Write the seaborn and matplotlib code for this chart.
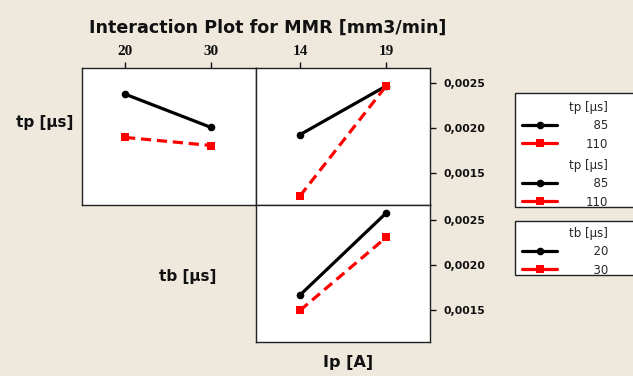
import matplotlib
matplotlib.use('Agg')
import matplotlib.pyplot as plt
from matplotlib.lines import Line2D
from matplotlib.patches import Rectangle
import pandas as pd
import seaborn as sns

# factor levels
tb_levels = [20, 30]
ip_levels = [14, 19]
tp_names = ['85', '110']
tb_names = ['20', '30']

# mean MMR [mm3/min]
mmr_tp85_vs_tb = [0.00238, 0.00201]
mmr_tp110_vs_tb = [0.00190, 0.00181]
mmr_tp85_vs_ip = [0.00193, 0.00247]
mmr_tp110_vs_ip = [0.00125, 0.00247]
mmr_tb20_vs_ip = [0.00167, 0.00258]
mmr_tb30_vs_ip = [0.00150, 0.00231]

yticks = [0.0015, 0.0020, 0.0025]
ytick_labels = ['0,0015', '0,0020', '0,0025']

BG = '#EEE8DD'
W, H = 633, 376

sns.set_theme(style='white')
plt.rcParams['font.family'] = ['DejaVu Sans']

df_tb = pd.DataFrame({'x': tb_levels * 2,
                      'lvl': [tp_names[0]] * 2 + [tp_names[1]] * 2,
                      'MMR': mmr_tp85_vs_tb + mmr_tp110_vs_tb})
df_ip_tp = pd.DataFrame({'x': ip_levels * 2,
                         'lvl': [tp_names[0]] * 2 + [tp_names[1]] * 2,
                         'MMR': mmr_tp85_vs_ip + mmr_tp110_vs_ip})
df_ip_tb = pd.DataFrame({'x': ip_levels * 2,
                         'lvl': [tb_names[0]] * 2 + [tb_names[1]] * 2,
                         'MMR': mmr_tb20_vs_ip + mmr_tb30_vs_ip})

fig = plt.figure(figsize=(W / 100, H / 100), dpi=100, facecolor=BG)


def frac_box(x0, y0, x1, y1):
    return [x0 / W, 1 - y1 / H, (x1 - x0) / W, (y1 - y0) / H]


ax_tl = fig.add_axes(frac_box(82, 68, 256, 205))
ax_tr = fig.add_axes(frac_box(256, 68, 430, 205))
ax_br = fig.add_axes(frac_box(256, 205, 430, 342))


def draw(ax, df, order):
    sns.lineplot(data=df, x='x', y='MMR', hue='lvl', style='lvl',
                 hue_order=order, style_order=order,
                 palette=dict(zip(order, ['black', 'red'])),
                 markers=dict(zip(order, ['o', 's'])),
                 dashes=dict(zip(order, ['', (3.2, 1.8)])),
                 linewidth=2.3, markersize=5.5, markeredgewidth=0,
                 legend=False, ax=ax)
    ax.set_facecolor('white')
    ax.set_ylim(0.00115, 0.00267)
    ax.set_xlabel('')
    ax.set_ylabel('')
    for s in ax.spines.values():
        s.set_color('#222222')
        s.set_linewidth(1.0)


draw(ax_tl, df_tb, tp_names)
draw(ax_tr, df_ip_tp, tp_names)
draw(ax_br, df_ip_tb, tb_names)

ax_tl.set_xlim(15, 35.2)
ax_tr.set_xlim(11.45, 21.55)
ax_br.set_xlim(11.45, 21.55)

top_font = dict(family='Liberation Serif', weight='bold', size=11)
for ax, lv in [(ax_tl, tb_levels), (ax_tr, ip_levels)]:
    ax.xaxis.tick_top()
    ax.set_xticks(lv)
    ax.set_xticklabels([str(v) for v in lv], fontdict=top_font)
    ax.tick_params(axis='x', top=True, bottom=False, direction='out',
                   length=4.5, width=1, pad=3, colors='#111111')
ax_br.set_xticks([])
ax_tl.set_yticks([])

for ax in (ax_tr, ax_br):
    ax.yaxis.tick_right()
    ax.set_yticks(yticks)
    ax.set_yticklabels(ytick_labels, fontsize=7.8, fontweight='bold')
    ax.tick_params(axis='y', right=True, left=False, direction='out',
                   length=4, width=1, pad=6, colors='#111111')

fig.text(268 / W, 1 - 28 / H, 'Interaction Plot for MMR [mm3/min]',
         ha='center', va='center', fontsize=12.6, fontweight='bold',
         color='#111111')
fig.text(73 / W, 1 - 122 / H, 'tp [μs]', ha='right', va='center',
         fontsize=11, fontweight='bold', color='#111111')
fig.text(188 / W, 1 - 277 / H, 'tb [μs]', ha='center', va='center',
         fontsize=11, fontweight='bold', color='#111111')
fig.text(348 / W, 1 - 362 / H, 'Ip [A]', ha='center', va='center',
         fontsize=11.5, fontweight='bold', color='#111111')

# legend frames
for y0, y1 in [(93, 207), (221, 275)]:
    fig.add_artist(Rectangle((515 / W, 1 - y1 / H), 130 / W, (y1 - y0) / H,
                             transform=fig.transFigure, facecolor='white',
                             edgecolor='#222222', linewidth=1, zorder=1))

h_black = Line2D([], [], color='black', marker='o', lw=2.3, ms=5.5, mew=0)
h_red = Line2D([], [], color='red', marker='s', lw=2.3, ms=5.5, mew=0)

leg_kw = dict(loc='upper left', frameon=False, borderpad=0, borderaxespad=0,
              handlelength=3.0, handletextpad=2.4, alignment='right',
              fontsize=8.5, title_fontsize=8.5, labelspacing=0.45)
for top, title, labels in [(101, 'tp [μs]', ['  85', '110']),
                           (159, 'tp [μs]', ['  85', '110']),
                           (227, 'tb [μs]', ['  20', '  30'])]:
    leg = fig.legend(handles=[h_black, h_red], labels=labels, title=title,
                     bbox_to_anchor=(522 / W, 1 - top / H), **leg_kw)
    leg.set_zorder(5)

fig.savefig('out.png', dpi=100, facecolor=BG)
